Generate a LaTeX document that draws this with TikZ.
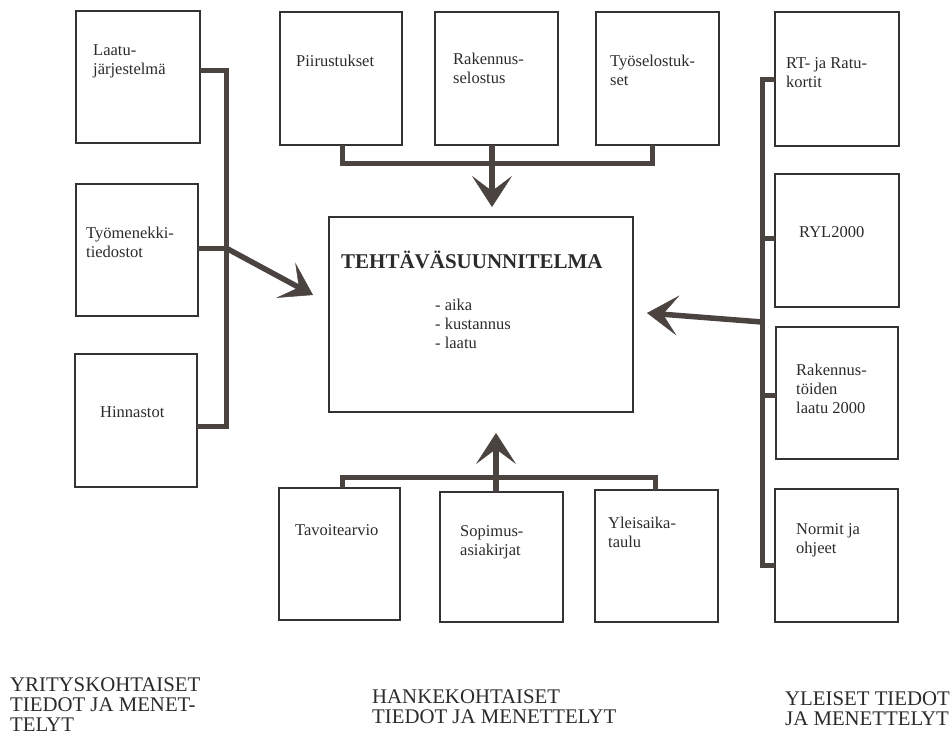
\documentclass[tikz,border=0pt]{standalone}
\usepackage{fontspec}
\setmainfont{Liberation Serif}
\usetikzlibrary{arrows.meta}
\definecolor{boxc}{HTML}{333333}
\definecolor{busc}{HTML}{4A4340}
\definecolor{txtc}{HTML}{2B2B2B}
\begin{document}
\begin{tikzpicture}[x=1pt,y=-1pt,
  box/.style={draw=boxc, line width=2.2pt, fill=white, inner sep=0pt, outer sep=0pt},
  lbl/.style={anchor=base west, inner sep=0pt, align=left, font=\fontsize{16.5}{19}\selectfont, text=txtc},
  caplbl/.style={anchor=base west, inner sep=0pt, align=left, font=\fontsize{20.8}{20}\selectfont, text=txtc},
  bus/.style={draw=busc, line width=5pt, line join=miter},
  arr/.style={draw=busc, line width=5.5pt, -{Stealth[length=31pt,width=40pt,inset=15pt,line width=0.5pt]}}]
\fill[white] (0,0) rectangle (952,740);
\useasboundingbox (0,0) rectangle (952,740);

% boxes
\node[box, minimum width=124pt, minimum height=132pt] (L1) at (138,77) {};
\node[box, minimum width=122pt, minimum height=132pt] (L2) at (137,250) {};
\node[box, minimum width=122pt, minimum height=133pt] (L3) at (136,420.5) {};
\node[box, minimum width=122pt, minimum height=133pt] (T1) at (341,78.5) {};
\node[box, minimum width=123pt, minimum height=133pt] (T2) at (496.5,78.5) {};
\node[box, minimum width=123pt, minimum height=133pt] (T3) at (657.5,78.5) {};
\node[box, minimum width=124pt, minimum height=134pt] (R1) at (837,79) {};
\node[box, minimum width=124pt, minimum height=133pt] (R2) at (837,240.5) {};
\node[box, minimum width=122pt, minimum height=132pt] (R3) at (837,393) {};
\node[box, minimum width=123pt, minimum height=133pt] (R4) at (836.5,555.5) {};
\node[box, minimum width=304pt, minimum height=195pt] (C) at (481,314.5) {};
\node[box, minimum width=121pt, minimum height=132pt] (B1) at (339.5,554) {};
\node[box, minimum width=123pt, minimum height=130pt] (B2) at (501.5,557) {};
\node[box, minimum width=123pt, minimum height=132pt] (B3) at (656.5,556) {};

% bus coordinates
\coordinate (lb1) at (226,70);
\coordinate (lb2) at (226,248);
\coordinate (lb3) at (226,426);
\coordinate (tipL) at (313,295);
\coordinate (tb1) at (342,163);
\coordinate (tb3) at (652,163);
\coordinate (tipT) at (492,207);
\coordinate (bb1) at (342,477);
\coordinate (bb3) at (655,477);
\coordinate (tipB) at (496,433);
\coordinate (rb1) at (762,79);
\coordinate (rb2) at (762,238);
\coordinate (rb3) at (762,395);
\coordinate (rb4) at (762,565);
\coordinate (rbA) at (762,322);
\coordinate (tipR) at (647,313);

% left group
\draw[bus] (L1.east |- lb1) -- (lb1) -- (lb3) -- (L3.east |- lb3);
\draw[bus] (L2.east |- lb2) -- (lb2);
\draw[arr] (lb2) -- (tipL);
% top group
\draw[bus] (tb1 |- T1.south) -- (tb1) -- (tb3) -- (tb3 |- T3.south);
\draw[arr] (tipT |- T2.south) -- (tipT);
% bottom group
\draw[bus] (bb1 |- B1.north) -- (bb1) -- (bb3) -- (bb3 |- B3.north);
\draw[arr] (tipB |- B2.north) -- (tipB);
% right group
\draw[bus] (R1.west |- rb1) -- (rb1) -- (rb4) -- (R4.west |- rb4);
\draw[bus] (R2.west |- rb2) -- (rb2);
\draw[bus] (R3.west |- rb3) -- (rb3);
\draw[arr] (rbA) -- (tipR);

% box texts (anchor = baseline of last line)
\node[lbl] (tL1) at (93,74) {Laatu-\\järjestelmä};
\node[lbl] (tL2) at (86,257) {Työmenekki-\\tiedostot};
\node[lbl] (tL3) at (100,417) {Hinnastot};
\node[lbl] (tT1) at (296,66) {Piirustukset};
\node[lbl] (tT2) at (453,83) {Rakennus-\\selostus};
\node[lbl] (tT3) at (610,85) {Työselostuk-\\set};
\node[lbl] (tR1) at (786,87) {RT- ja Ratu-\\kortit};
\node[lbl] (tR2) at (799,237) {RYL2000};
\node[lbl] (tR3) at (796,413) {Rakennus-\\töiden\\laatu 2000};
\node[lbl] (tR4) at (796,553) {Normit ja\\ohjeet};
\node[lbl] (tB1) at (295,535) {Tavoitearvio};
\node[lbl] (tB2) at (460,555) {Sopimus-\\asiakirjat};
\node[lbl] (tB3) at (608,547) {Yleisaika-\\taulu};

% central
\node[lbl, font=\bfseries\fontsize{21}{22}\selectfont] (title) at (341,268) {TEHTÄVÄSUUNNITELMA};
\node[lbl] (list) at (435,348) {- aika\\- kustannus\\- laatu};

% captions
\node[caplbl] (cap1) at (10,731) {YRITYSKOHTAISET\\TIEDOT JA MENET-\\TELYT};
\node[caplbl] (cap2) at (372,723) {HANKEKOHTAISET\\TIEDOT JA MENETTELYT};
\node[caplbl] (cap3) at (785,725) {YLEISET TIEDOT\\JA MENETTELYT};
\end{tikzpicture}
\end{document}
